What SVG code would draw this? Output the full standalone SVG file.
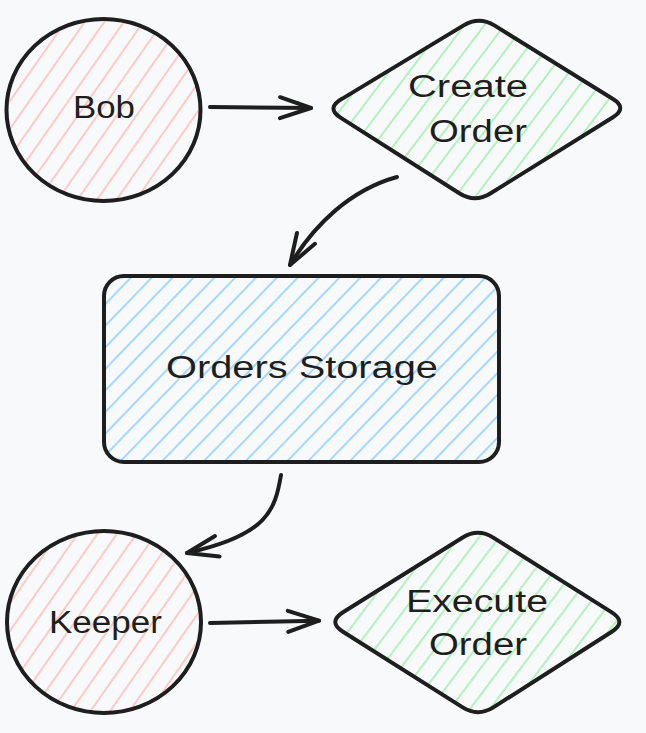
<svg xmlns="http://www.w3.org/2000/svg" width="646" height="733" viewBox="0 0 646 733">
  <defs>
    <pattern id="hatch-red" width="16" height="16" patternUnits="userSpaceOnUse" patternTransform="rotate(35)">
      <line x1="2" y1="0" x2="2" y2="16" stroke="#ffc9c9" stroke-width="2"/>
    </pattern>
    <pattern id="hatch-green" width="16" height="16" patternUnits="userSpaceOnUse" patternTransform="rotate(37)">
      <line x1="2" y1="0" x2="2" y2="16" stroke="#b2f2bb" stroke-width="2"/>
    </pattern>
    <pattern id="hatch-blue" width="15" height="15" patternUnits="userSpaceOnUse" patternTransform="rotate(44)">
      <line x1="2" y1="0" x2="2" y2="15" stroke="#a5d8ff" stroke-width="2"/>
    </pattern>
    <marker id="arrow" markerUnits="userSpaceOnUse" viewBox="-40 -20 50 40" refX="0" refY="0" markerWidth="50" markerHeight="40" orient="auto" overflow="visible">
      <path d="M-31,-10.5 L0,0 L-31,10.5" fill="none" stroke="#1e1e1e" stroke-width="4" stroke-linecap="round" stroke-linejoin="round"/>
    </marker>
  </defs>
  <style>
    .outline { stroke: #1e1e1e; stroke-width: 4; stroke-linecap: round; stroke-linejoin: round; }
    .conn { fill: none; stroke: #1e1e1e; stroke-width: 4; stroke-linecap: round; }
    .label { font-family: "Liberation Sans", Arial, sans-serif; font-size: 31px; fill: #1e1e1e; text-anchor: start; }
  </style>
  <rect width="646" height="733" fill="#f8f9fa"/>

  <g id="bob">
    <ellipse cx="103.5" cy="110" rx="97" ry="91" class="outline" fill="url(#hatch-red)"/>
    <text class="label" x="73" y="118" textLength="62" lengthAdjust="spacingAndGlyphs">Bob</text>
  </g>

  <g id="create-order">
    <path class="outline" fill="url(#hatch-green)" d="M342.4,98.6 L463.6,25.4 Q479,16 494.4,25.4 L612.6,98.7 Q628,108 612.6,117.5 L490.3,193.5 Q475,203 459.7,193.5 L340.5,117.6 Q325.5,108 342.4,98.6 Z"/>
    <text class="label" x="408" y="97" textLength="120" lengthAdjust="spacingAndGlyphs">Create</text>
    <text class="label" x="429" y="142" textLength="98" lengthAdjust="spacingAndGlyphs">Order</text>
  </g>

  <g id="orders-storage">
    <rect x="104" y="276" width="395" height="186" rx="20" ry="20" class="outline" fill="url(#hatch-blue)"/>
    <text class="label" x="166" y="378" textLength="272" lengthAdjust="spacingAndGlyphs">Orders Storage</text>
  </g>

  <g id="keeper">
    <ellipse cx="104" cy="622" rx="97" ry="91" class="outline" fill="url(#hatch-red)"/>
    <text class="label" x="49" y="633" textLength="113" lengthAdjust="spacingAndGlyphs">Keeper</text>
  </g>

  <g id="execute-order">
    <path class="outline" fill="url(#hatch-green)" d="M343,612.3 L462.7,537.5 Q478,528 493.3,537.6 L611.8,612.4 Q627,622 611.8,631.7 L493.3,707.4 Q478,717 462.7,707.4 L343,631.7 Q327.6,622 343,612.3 Z"/>
    <text class="label" x="406" y="612" textLength="142" lengthAdjust="spacingAndGlyphs">Execute</text>
    <text class="label" x="429" y="655" textLength="98" lengthAdjust="spacingAndGlyphs">Order</text>
  </g>

  <g id="connectors">
    <path class="conn" d="M210,107 L311,108" marker-end="url(#arrow)"/>
    <path class="conn" d="M397,177 C350,190 314,225 290,265" marker-end="url(#arrow)"/>
    <path class="conn" d="M281,475 C275,510 268,535 187,553" marker-end="url(#arrow)"/>
    <path class="conn" d="M210,623 L319,620.7" marker-end="url(#arrow)"/>
  </g>
</svg>
